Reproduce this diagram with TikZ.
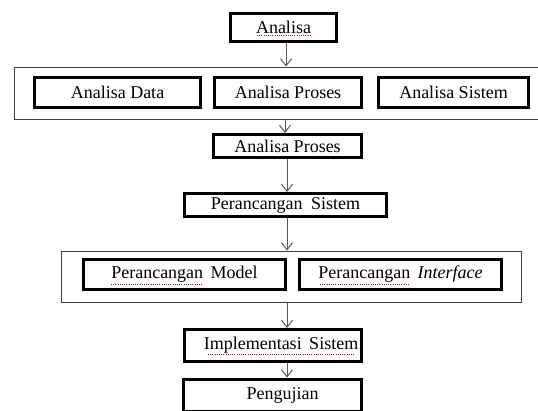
\documentclass[tikz,border=0pt]{standalone}
\usepackage{fontspec}
\setmainfont{Liberation Serif}
\usetikzlibrary{arrows.meta}
\tikzset{
  box/.style={draw=black, line width=3pt, minimum width=#1, inner sep=0pt, font=\fontsize{18}{20}\selectfont},
  outerbox/.style={draw=black!75, line width=1pt, inner sep=0pt},
  flow/.style={draw=black!65, line width=1pt, -{Straight Barb[length=7pt,width=11pt,line width=1pt]}},
  spell/.style={draw=red!80!black, line width=0.9pt, dash pattern=on 1pt off 1.2pt}
}
\begin{document}
\begin{tikzpicture}[x=1pt,y=-1pt]
\useasboundingbox (0,0) rectangle (538,410);
% containers
\node[outerbox, minimum width=531pt, minimum height=52pt] (o1) at (279.5,93) {};
\node[outerbox, minimum width=460pt, minimum height=51pt] (o2) at (291,276.5) {};
% boxes
\node[box=106pt, minimum height=28pt] (an) at (283.5,27.5) {Analisa};
\node[box=166pt, minimum height=30pt] (ad) at (117.5,92.5) {Analisa Data};
\node[box=147pt, minimum height=30pt] (ap1) at (288,92.5) {Analisa Proses};
\node[box=150pt, minimum height=30pt] (as) at (453.5,92.5) {Analisa Sistem};
\node[box=148pt, minimum height=23pt] (ap2) at (287.5,146) {Analisa Proses};
\node[box=202pt, minimum height=23pt] (ps) at (285.5,205) {Perancangan\hspace{4pt} Sistem};
\node[box=202pt, minimum height=30pt] (pm) at (184.5,274.5) {Perancangan\hspace{3pt} Model};
\node[box=202pt, minimum height=30pt] (pi) at (400.5,274.5) {Perancangan\hspace{3pt} \textit{Interface}};
\node[box=177pt, minimum height=32pt] (im) at (273,345.5) {\hspace*{16pt}Implementasi\hspace{3pt} Sistem};
\node[box=178pt, minimum height=32pt] (pg) at (272.5,395) {\hspace*{20pt}Pengujian};
% connectors
\draw[flow] (an.south -| 286,0) -- (o1.north -| 286,0);
\draw[flow] (o1.south -| 285,0) -- (ap2.north -| 285,0);
\draw[flow] (ap2.south -| 287,0) -- (ps.north -| 287,0);
\draw[flow] (ps.south -| 287,0) -- (o2.north -| 287,0);
\draw[flow] (o2.south -| 287,0) -- (im.north -| 287,0);
\draw[flow] (im.south -| 287,0) -- (pg.north -| 287,0);
% spell-check underlines
\draw[spell] (257,35.5) -- (310,35.5);
\draw[spell] (111,284) -- (202,284);
\draw[spell] (320,284) -- (410,284);
\draw[spell] (208,354) -- (355,354);
\end{tikzpicture}
\end{document}
